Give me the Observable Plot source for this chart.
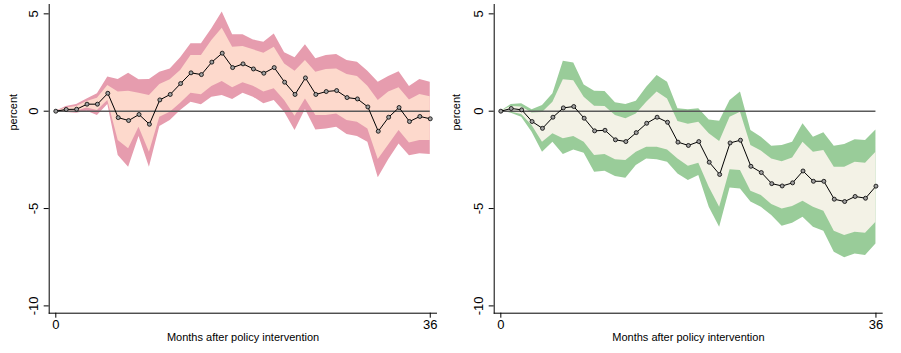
<!DOCTYPE html>
<html><head><meta charset="utf-8">
<script src="https://cdn.jsdelivr.net/npm/d3@7"></script>
<script src="https://cdn.jsdelivr.net/npm/@observablehq/plot@0.6"></script>
<style>
html,body{margin:0;padding:0;background:#fff;}
#wrap{display:flex;width:901px;height:353px;overflow:hidden;}
#wrap svg{display:block;flex:none;}
</style></head><body><div id="wrap"></div>
<script>
const months = [0,1,2,3,4,5,6,7,8,9,10,11,12,13,14,15,16,17,18,19,20,21,22,23,24,25,26,27,28,29,30,31,32,33,34,35,36];
const yTicks = [5, 0, -5, -10];
const xTicks = [0, 36];
const xTitle = "Months after policy intervention";
const yTitle = "percent";

// Left panel
const leftEst = [0,0.09,0.10,0.36,0.36,0.92,-0.33,-0.48,-0.17,-0.67,0.58,0.86,1.42,1.97,1.88,2.52,2.98,2.24,2.43,2.17,1.95,2.24,1.49,0.86,1.71,0.86,1.01,1.06,0.70,0.63,0.22,-1.03,-0.31,0.19,-0.53,-0.27,-0.39];
const leftOuterUp = [0,0.24,0.34,0.63,0.89,1.75,1.63,1.95,1.61,1.63,2.0,2.17,2.74,3.46,3.46,4.23,5.09,3.92,3.92,3.66,3.54,3.97,3.0,2.74,3.41,2.69,2.86,2.91,2.60,2.52,2.05,1.49,1.78,2.02,1.27,1.63,1.49];
const leftInnerUp = [0,0.17,0.24,0.50,0.67,1.32,0.98,1.03,0.92,0.80,1.37,1.61,2.09,2.86,2.86,3.63,4.26,3.29,3.32,3.15,2.98,3.29,2.43,2.05,2.60,2.0,2.14,2.17,1.88,1.78,1.28,0.55,0.98,1.20,0.58,0.86,0.74];
const leftInnerLo = [0,0,0,0.17,0.03,0.55,-1.51,-1.93,-0.82,-2.11,-0.31,-0.05,0.41,0.92,0.84,1.27,1.52,1.20,1.46,1.28,0.98,1.15,0.55,-0.26,0.63,-0.22,-0.22,-0.15,-0.48,-0.57,-0.91,-2.48,-1.73,-0.99,-1.63,-1.51,-1.51];
const leftOuterLo = [0,-0.07,-0.10,0,-0.22,0.34,-2.28,-2.88,-1.30,-2.88,-0.79,-0.48,0.03,0.46,0.33,0.72,0.80,0.60,0.92,0.72,0.38,0.55,-0.05,-0.99,0.09,-0.96,-0.91,-0.82,-1.20,-1.30,-1.59,-3.42,-2.50,-1.68,-2.29,-2.19,-2.23];

// Right panel
const rightEst = [0,0.14,0.07,-0.53,-0.88,-0.31,0.17,0.24,-0.36,-1.01,-0.98,-1.47,-1.56,-1.10,-0.62,-0.31,-0.57,-1.59,-1.76,-1.56,-2.62,-3.25,-1.63,-1.49,-2.83,-3.15,-3.72,-3.84,-3.68,-3.07,-3.60,-3.60,-4.52,-4.64,-4.38,-4.47,-3.85];
const rightOuterUp = [0,0.34,0.38,0.07,0.29,0.89,2.57,2.47,1.35,1.03,1.01,0.43,0.34,0.51,1.23,1.83,1.49,0.12,0.07,0.12,-0.45,-0.51,0.55,0.98,-0.99,-1.34,-1.80,-1.76,-1.59,-0.65,-1.34,-1.11,-1.80,-1.71,-1.47,-1.51,-0.96];
const rightInnerUp = [0,0.24,0.21,-0.09,-0.07,0.46,1.61,1.56,0.72,0.26,0.24,-0.22,-0.39,-0.14,0.46,0.98,0.63,-0.53,-0.67,-0.57,-1.16,-1.56,-0.31,-0.05,-1.76,-2.05,-2.45,-2.59,-2.40,-1.59,-2.11,-2.02,-2.88,-2.88,-2.62,-2.67,-2.11];
const rightInnerLo = [0,-0.05,-0.17,-0.74,-1.59,-1.16,-1.42,-1.30,-1.59,-2.28,-2.23,-2.50,-2.53,-2.11,-1.85,-1.85,-1.99,-2.45,-2.83,-2.67,-3.90,-4.93,-3.01,-3.05,-4.11,-4.33,-4.79,-5.02,-4.90,-4.62,-4.93,-5.14,-6.16,-6.39,-6.22,-6.27,-5.70];
const rightOuterLo = [0,-0.10,-0.31,-1.08,-2.11,-1.59,-2.23,-1.99,-2.16,-3.13,-3.08,-3.36,-3.44,-2.79,-2.45,-2.50,-2.62,-3.22,-3.56,-3.30,-4.93,-5.96,-3.94,-3.99,-4.67,-4.93,-5.36,-5.91,-5.75,-5.45,-5.96,-6.16,-7.24,-7.53,-7.33,-7.41,-6.82];

const font = "'Liberation Sans', Arial, Helvetica, sans-serif";

function panel(o) {
  const rows = months.map((m, i) => ({m, est: o.est[i], ou: o.ou[i], iu: o.iu[i], il: o.il[i], ol: o.ol[i]}));
  return Plot.plot({
    width: o.width, height: 353,
    marginLeft: o.marginLeft, marginRight: o.marginRight, marginTop: 4, marginBottom: 40.3,
    x: {domain: [-0.635, 36.6]},
    y: {domain: [-10.375, 5.48]},
    style: {fontFamily: font, background: "white", color: "black"},
    marks: [
      Plot.areaY(rows, {x: "m", y1: "ol", y2: "ou", fill: o.outer}),
      Plot.areaY(rows, {x: "m", y1: "il", y2: "iu", fill: o.inner}),
      Plot.ruleY([0], {x1: 0, x2: 36, stroke: "#5a5a5a", strokeWidth: 1.6}),
      Plot.lineY(rows, {x: "m", y: "est", stroke: "black", strokeWidth: 1}),
      Plot.dot(rows, {x: "m", y: "est", r: 2, stroke: "black", fill: "#a0a0a0", strokeWidth: 0.8}),
      Plot.frame({anchor: "left", stroke: "black"}),
      Plot.frame({anchor: "bottom", stroke: "black"}),
      Plot.axisY({ticks: yTicks, tickSize: 5, tickFormat: () => "", label: null}),
      Plot.text(yTicks, {y: d => d, text: d => String(d), frameAnchor: "left", dx: -15.4, rotate: -90,
        fontSize: 13, textAnchor: "middle", lineAnchor: "middle", fill: "black"}),
      Plot.text([yTitle], {y: () => 0, text: d => d, frameAnchor: "left", dx: o.titleDx, dy: 1, rotate: -90,
        fontSize: 11, textAnchor: "middle", lineAnchor: "middle", fill: "black"}),
      Plot.axisX({ticks: xTicks, tickSize: 5, tickPadding: 1.5, fontSize: 13, label: null}),
      Plot.text([xTitle], {x: () => 18, text: d => d, frameAnchor: "bottom", dy: 24.4,
        fontSize: 11, textAnchor: "middle", lineAnchor: "middle", fill: "black"})
    ]
  });
}

const wrap = document.getElementById("wrap");
wrap.appendChild(panel({width: 450, marginLeft: 48.7, marginRight: 14, titleDx: -35.4,
  est: leftEst, ou: leftOuterUp, iu: leftInnerUp, il: leftInnerLo, ol: leftOuterLo,
  outer: "#e69cae", inner: "#fdd9cc"}));
wrap.appendChild(panel({width: 451, marginLeft: 43.7, marginRight: 19.3, titleDx: -37.4,
  est: rightEst, ou: rightOuterUp, iu: rightInnerUp, il: rightInnerLo, ol: rightOuterLo,
  outer: "#99cc99", inner: "#f3f2e6"}));
</script></body></html>
